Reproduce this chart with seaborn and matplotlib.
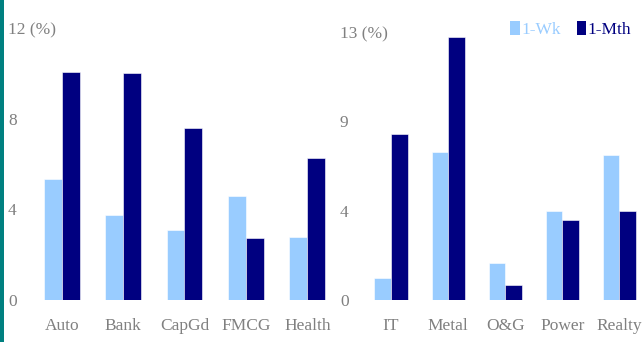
import matplotlib
matplotlib.use("Agg")
import matplotlib.pyplot as plt
from matplotlib.patches import Rectangle, Patch
import seaborn as sns
import pandas as pd

# sector returns (%)
left_sectors = ["Auto", "Bank", "CapGd", "FMCG", "Health"]
left_wk = [5.35, 3.77, 3.07, 4.57, 2.79]
left_mth = [10.07, 10.0, 7.6, 2.73, 6.27]

right_sectors = ["IT", "Metal", "O&G", "Power", "Realty"]
right_wk = [1.07, 7.31, 1.82, 4.4, 7.14]
right_mth = [8.2, 12.95, 0.74, 3.95, 4.36]

left_ticks = [0, 4, 8, 12]
left_tick_labels = ["0", "4", "8", "12 (%)"]
right_ticks = [0, 4.4, 8.8, 13.2]
right_tick_labels = ["0", "4", "9", "13 (%)"]

periods = ["1-Wk", "1-Mth"]
colors = ["#99CCFF", "#000080"]
grey = "#808080"


def long_df(sectors, wk, mth):
    return pd.DataFrame({
        "sector": sectors * 2,
        "value": wk + mth,
        "period": [periods[0]] * len(sectors) + [periods[1]] * len(sectors),
    })


sns.set_style("white")
plt.rcParams["font.family"] = ["Liberation Serif", "DejaVu Serif"]

fig = plt.figure(figsize=(6.42, 3.42), dpi=100)
ax1 = fig.add_axes([31 / 642, 42 / 342, 307 / 642, 272 / 342])
ax2 = fig.add_axes([362.5 / 642, 42 / 342, 285.5 / 642, 268 / 342])

panels = [
    (ax1, long_df(left_sectors, left_wk, left_mth), left_ticks, left_tick_labels, 12),
    (ax2, long_df(right_sectors, right_wk, right_mth), right_ticks, right_tick_labels, 13.2),
]

for ax, df, ticks, labels, ymax in panels:
    sns.barplot(data=df, x="sector", y="value", hue="period", hue_order=periods,
                palette=colors, saturation=1, width=0.58, ax=ax,
                edgecolor="white", linewidth=0.4)
    ax.legend_.remove()
    ax.set_ylim(0, ymax)
    ax.set_xlim(-0.5, 4.5)
    ax.set_yticks(ticks)
    ax.set_yticklabels(labels)
    ax.set_xlabel("")
    ax.set_ylabel("")
    ax.tick_params(axis="both", length=0, labelsize=12.5, colors=grey)
    ax.tick_params(axis="x", pad=13)
    for lab in ax.get_yticklabels():
        lab.set_horizontalalignment("left")
    ax.patch.set_alpha(0)
    sns.despine(ax=ax, left=True, bottom=True)

# left-align y tick labels like the reference
for ax, x in [(ax1, 8 / 642), (ax2, 340 / 642)]:
    for lab in ax.get_yticklabels():
        lab.set_transform(matplotlib.transforms.blended_transform_factory(fig.transFigure, ax.transData))
        lab.set_x(x)

handles = [Patch(facecolor=c, edgecolor="none") for c in colors]
leg = fig.legend(handles, periods, loc="upper right", bbox_to_anchor=(1.008, 0.985),
                 ncol=2, frameon=False, fontsize=12.5, handlelength=0.55, handleheight=0.9,
                 handletextpad=0.1, columnspacing=0.9)
for txt, c in zip(leg.get_texts(), colors):
    txt.set_color(c)

fig.patches.append(Rectangle((0, 0), 4 / 642, 1, transform=fig.transFigure,
                             facecolor="#008080", edgecolor="none"))

fig.savefig("out.png", dpi=100)
